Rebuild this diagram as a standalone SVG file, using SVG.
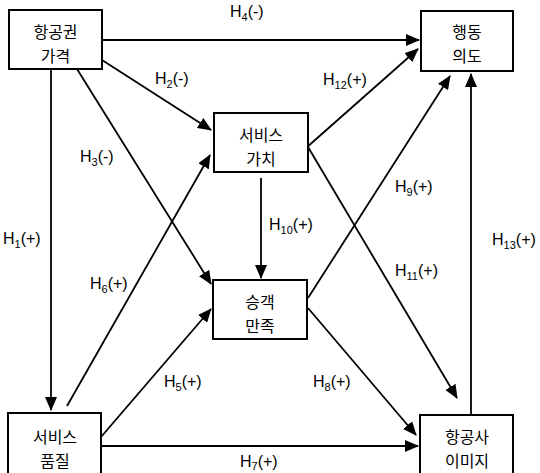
<svg xmlns="http://www.w3.org/2000/svg" width="540" height="473" viewBox="0 0 540 473">
<style>
.box{fill:#fff;stroke:#000;stroke-width:2}
.kt{font-family:"Noto Sans CJK KR","Noto Sans",sans-serif;font-size:16px;text-anchor:middle;fill:#000}
.lbl{font-family:"Liberation Sans",Arial,sans-serif;font-size:16px;fill:#000}
.sub{font-size:11px}
.ln{stroke:#000;stroke-width:1.8;fill:none;marker-end:url(#ah)}
</style>
<defs>
<marker id="ah" markerUnits="userSpaceOnUse" markerWidth="14" markerHeight="12" refX="13" refY="6" orient="auto">
<path d="M0,0 L14,6 L0,12 Z" fill="#000"/>
</marker>
</defs>
<rect width="540" height="473" fill="#fff"/>
<g id="connectors">
<line class="ln" x1="102" y1="40" x2="419" y2="40"/>
<line class="ln" x1="102" y1="60" x2="211" y2="130"/>
<line class="ln" x1="77" y1="69" x2="211" y2="284"/>
<line class="ln" x1="51" y1="69" x2="51" y2="410"/>
<line class="ln" x1="67" y1="406" x2="210" y2="155"/>
<line class="ln" x1="101" y1="437" x2="211" y2="309"/>
<line class="ln" x1="101" y1="446" x2="418" y2="446"/>
<line class="ln" x1="261" y1="178" x2="261" y2="278"/>
<line class="ln" x1="306" y1="148" x2="418" y2="49"/>
<line class="ln" x1="308" y1="147" x2="457" y2="398"/>
<line class="ln" x1="308" y1="298" x2="450" y2="76"/>
<line class="ln" x1="308" y1="308" x2="416" y2="435"/>
<line class="ln" x1="471" y1="415" x2="471" y2="74"/>
</g>
<g id="labels">
<text class="lbl" x="230" y="17">H<tspan class="sub" dy="4">4</tspan><tspan dy="-4">(-)</tspan></text>
<text class="lbl" x="155" y="84">H<tspan class="sub" dy="4">2</tspan><tspan dy="-4">(-)</tspan></text>
<text class="lbl" x="323" y="85">H<tspan class="sub" dy="4">12</tspan><tspan dy="-4">(+)</tspan></text>
<text class="lbl" x="80" y="162">H<tspan class="sub" dy="4">3</tspan><tspan dy="-4">(-)</tspan></text>
<text class="lbl" x="395" y="192">H<tspan class="sub" dy="4">9</tspan><tspan dy="-4">(+)</tspan></text>
<text class="lbl" x="3" y="244">H<tspan class="sub" dy="4">1</tspan><tspan dy="-4">(+)</tspan></text>
<text class="lbl" x="269" y="230">H<tspan class="sub" dy="4">10</tspan><tspan dy="-4">(+)</tspan></text>
<text class="lbl" x="492" y="245">H<tspan class="sub" dy="4">13</tspan><tspan dy="-4">(+)</tspan></text>
<text class="lbl" x="90" y="289">H<tspan class="sub" dy="4">6</tspan><tspan dy="-4">(+)</tspan></text>
<text class="lbl" x="395" y="276">H<tspan class="sub" dy="4">11</tspan><tspan dy="-4">(+)</tspan></text>
<text class="lbl" x="164" y="387">H<tspan class="sub" dy="4">5</tspan><tspan dy="-4">(+)</tspan></text>
<text class="lbl" x="313" y="387">H<tspan class="sub" dy="4">8</tspan><tspan dy="-4">(+)</tspan></text>
<text class="lbl" x="240" y="467">H<tspan class="sub" dy="3">7</tspan><tspan dy="-3">(+)</tspan></text>
</g>
<g id="price">
<rect class="box" x="9" y="10" width="93" height="59"/>
<text class="kt" x="55.5" y="38">항공권</text>
<text class="kt" x="55.5" y="62">가격</text>
</g>
<g id="intention">
<rect class="box" x="421" y="11" width="92" height="60"/>
<text class="kt" x="467" y="38">행동</text>
<text class="kt" x="467" y="62">의도</text>
</g>
<g id="value">
<rect class="box" x="214" y="113" width="94" height="59"/>
<text class="kt" x="261" y="141">서비스</text>
<text class="kt" x="261" y="165">가치</text>
</g>
<g id="satisfaction">
<rect class="box" x="213" y="280" width="94" height="59"/>
<text class="kt" x="260" y="308">승객</text>
<text class="kt" x="260" y="332">만족</text>
</g>
<g id="quality">
<rect class="box" x="8" y="413" width="93" height="70"/>
<text class="kt" x="55" y="443">서비스</text>
<text class="kt" x="55" y="467">품질</text>
</g>
<g id="image">
<rect class="box" x="420" y="415" width="93" height="70"/>
<text class="kt" x="467" y="443">항공사</text>
<text class="kt" x="467" y="467">이미지</text>
</g>
</svg>
